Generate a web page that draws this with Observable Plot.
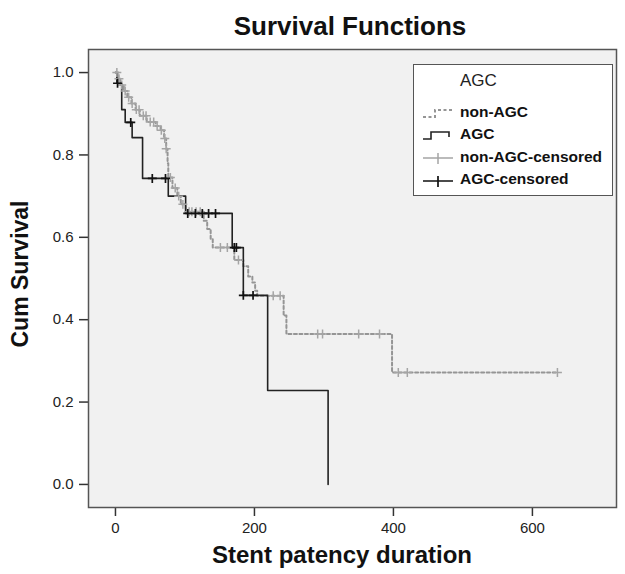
<!DOCTYPE html>
<html>
<head>
<meta charset="utf-8">
<script src="https://cdn.jsdelivr.net/npm/d3@7"></script>
<script src="https://cdn.jsdelivr.net/npm/@observablehq/plot@0.6"></script>
<style>
  html, body { margin: 0; padding: 0; background: #fff; }
  #wrap { position: relative; width: 625px; height: 574px; font-family: "Liberation Sans", Arial, sans-serif; }
  #wrap svg { position: absolute; left: 0; top: 0; }
  .title { position: absolute; left: 0; width: 700px; top: 11px; text-align: center; font-weight: bold; font-size: 26px; color: #111; }
  .xlab { position: absolute; left: 0; width: 684px; top: 541px; text-align: center; font-weight: bold; font-size: 24px; color: #111; }
  .ylab { position: absolute; left: 20px; top: 274px; transform: translate(-50%, -50%) rotate(-90deg); white-space: nowrap; font-weight: bold; font-size: 23px; color: #111; }
  #legend { position: absolute; left: 413px; top: 64px; width: 198px; height: 130px; background: #fff; border: 1px solid #555; }
  #legend .lt { position: absolute; left: 46px; top: 6px; font-size: 17px; color: #222; }
  #legend .row { position: absolute; left: 46px; font-size: 15.5px; font-weight: bold; color: #111; white-space: nowrap; }
  #legend svg { position: absolute; left: 0; top: 0; }
</style>
</head>
<body>
<div id="wrap"></div>
<script>
// ---- data ----
const nonAgcTime = [0, 4, 7, 12, 17, 23, 29, 35, 45, 58, 65, 70, 73, 75, 76, 82, 89, 94, 101, 127, 132, 137, 140, 171, 184, 191, 197, 201, 204, 242, 246, 398, 636];
const nonAgcSurv = [1.0, 0.985, 0.97, 0.955, 0.94, 0.925, 0.91, 0.895, 0.88, 0.87, 0.86, 0.84, 0.815, 0.78, 0.745, 0.72, 0.70, 0.68, 0.662, 0.64, 0.62, 0.595, 0.575, 0.545, 0.53, 0.505, 0.49, 0.47, 0.458, 0.41, 0.365, 0.272, 0.272];
const nonAgcCensor = [2, 5, 9, 14, 19, 24, 30, 34, 40, 44, 50, 55, 60, 66, 71, 73, 79, 86, 91, 97, 106, 110, 116, 122, 151, 161, 177, 227, 237, 291, 298, 350, 380, 407, 420, 636];

const agcTime = [0, 2, 9, 14, 24, 39, 76, 101, 168, 184, 219, 306];
const agcSurv = [1.0, 0.974, 0.91, 0.879, 0.842, 0.743, 0.70, 0.658, 0.575, 0.459, 0.228, 0.0];
const agcCensor = [3, 22, 53, 72, 104, 115, 125, 134, 144, 171, 174, 184, 198];

const xTicks = [0, 200, 400, 600];
const yTicks = [0, 0.2, 0.4, 0.6, 0.8, 1.0];
const legendLabels = ["non-AGC", "AGC", "non-AGC-censored", "AGC-censored"];

// ---- build tables ----
const nonAgc = nonAgcTime.map((t, i) => ({t, s: nonAgcSurv[i]}));
const agc = agcTime.map((t, i) => ({t, s: agcSurv[i]}));
function survAt(times, surv, t) {
  const i = d3.bisectRight(times, t) - 1;
  return surv[Math.max(0, i)];
}
const nonAgcC = nonAgcCensor.map(t => ({t, s: survAt(nonAgcTime, nonAgcSurv, t)}));
const agcC = agcCensor.map(t => ({t, s: survAt(agcTime, agcSurv, t)}));

const chart = Plot.plot({
  width: 625,
  height: 574,
  marginLeft: 88,
  marginRight: 9,
  marginTop: 49,
  marginBottom: 67,
  style: {fontFamily: "'Liberation Sans', Arial, sans-serif", color: "#222", background: "transparent"},
  x: {domain: [-38.8, 721], label: null},
  y: {domain: [-0.056, 1.056], label: null},
  marks: [
    Plot.frame({fill: "#f1f1f1", stroke: null}),
    Plot.axisX({ticks: xTicks, tickSize: 9, tickPadding: 6, fontSize: 15, label: null, stroke: "#333", strokeWidth: 1.5}),
    Plot.axisY({ticks: yTicks, tickSize: 9, tickPadding: 6, fontSize: 15, tickFormat: d3.format(".1f"), label: null, stroke: "#333", strokeWidth: 1.5}),
    Plot.line(nonAgc, {x: "t", y: "s", curve: "step-after", stroke: "#959595", strokeWidth: 2, strokeDasharray: "3,2.5"}),
    Plot.line(agc, {x: "t", y: "s", curve: "step-after", stroke: "#222", strokeWidth: 1.6}),
    Plot.dot(nonAgcC, {x: "t", y: "s", symbol: "plus", r: 3, stroke: "#a5a5a5", strokeWidth: 1.5}),
    Plot.dot(agcC, {x: "t", y: "s", symbol: "plus", r: 3, stroke: "#111", strokeWidth: 1.7}),
    Plot.frame({stroke: "#555", strokeWidth: 1.5})
  ]
});

const wrap = document.getElementById("wrap");
wrap.appendChild(chart);

const title = document.createElement("div");
title.className = "title"; title.textContent = "Survival Functions";
wrap.appendChild(title);
const xl = document.createElement("div");
xl.className = "xlab"; xl.textContent = "Stent patency duration";
wrap.appendChild(xl);
const yl = document.createElement("div");
yl.className = "ylab"; yl.textContent = "Cum Survival";
wrap.appendChild(yl);

// legend
const lg = document.createElement("div");
lg.id = "legend";
lg.innerHTML = `<div class="lt">AGC</div>
<svg width="198" height="130">
  <path d="M9,52 H21 V45 H38" fill="none" stroke="#959595" stroke-width="2" stroke-dasharray="3,2.5"/>
  <path d="M9,74 H17 V67 H35 V72" fill="none" stroke="#222" stroke-width="1.6"/>
  <path d="M9,93 H39 M24,88 V99" fill="none" stroke="#a5a5a5" stroke-width="1.5"/>
  <path d="M9,116 H39 M24,111 V122" fill="none" stroke="#111" stroke-width="1.7"/>
</svg>`;
const rowTops = [38, 60, 83, 105];
legendLabels.forEach((lab, i) => {
  const r = document.createElement("div");
  r.className = "row"; r.style.top = rowTops[i] + "px"; r.textContent = lab;
  lg.appendChild(r);
});
wrap.appendChild(lg);
</script>
</body>
</html>
